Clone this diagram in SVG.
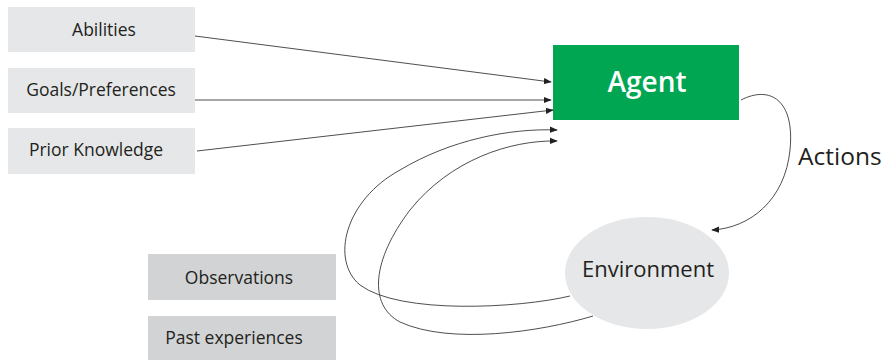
<svg xmlns="http://www.w3.org/2000/svg" width="886" height="360" viewBox="0 0 886 360">
  <style>
    .input rect { fill: #e6e7e8; }
    .memory rect { fill: #d1d3d4; }
    .label { font-family: "Open Sans", "Liberation Sans", sans-serif; font-size: 17.5px; fill: #231f20; text-anchor: middle; }
    .wire { fill: none; stroke: #231f20; stroke-width: 0.8; marker-end: url(#tip); }
  </style>
  <defs>
    <marker id="tip" viewBox="0 0 10 10" refX="9" refY="5" markerWidth="8" markerHeight="8" markerUnits="userSpaceOnUse" orient="auto">
      <path d="M0,1 L10,5 L0,9 Z" fill="#231f20"/>
    </marker>
  </defs>
  <rect width="886" height="360" fill="#ffffff"/>

  <g id="abilities" class="input">
    <rect x="8" y="7" width="187" height="45"/>
    <text class="label" x="104" y="36">Abilities</text>
  </g>
  <g id="goals" class="input">
    <rect x="8" y="68" width="187" height="45"/>
    <text class="label" x="101" y="96">Goals/Preferences</text>
  </g>
  <g id="prior-knowledge" class="input">
    <rect x="8" y="128" width="187" height="46"/>
    <text class="label" x="96" y="156">Prior Knowledge</text>
  </g>

  <g id="observations" class="memory">
    <rect x="148" y="254" width="188" height="46"/>
    <text class="label" x="239" y="284">Observations</text>
  </g>
  <g id="past-experiences" class="memory">
    <rect x="148" y="316" width="188" height="44"/>
    <text class="label" x="234" y="344">Past experiences</text>
  </g>

  <g id="agent">
    <rect x="553" y="45" width="186" height="75" fill="#00a651"/>
    <text x="647" y="92" font-family="'Open Sans', 'Liberation Sans', sans-serif" font-size="28" font-weight="600" fill="#ffffff" text-anchor="middle">Agent</text>
  </g>

  <g id="environment">
    <ellipse cx="647" cy="273" rx="82" ry="56" fill="#e6e7e8"/>
    <text x="648" y="277" font-family="'Open Sans', 'Liberation Sans', sans-serif" font-size="22" fill="#231f20" text-anchor="middle">Environment</text>
  </g>

  <g id="connectors">
    <path class="wire" d="M195,36 L551,82"/>
    <path class="wire" d="M195,100 L551,100"/>
    <path class="wire" d="M197,151 L553,110"/>
    <path class="wire" d="M570,296 C520,308 400,315 360,285 C330,260 345,200 400,170 C450,140 510,128 557,130"/>
    <path class="wire" d="M593,316 C540,332 450,345 400,322 C368,305 372,260 410,210 C450,160 510,140 557,141"/>
    <path class="wire" d="M741,100 C770,85 795,100 790,150 C785,200 750,228 712,230"/>
    <text x="798" y="165" font-family="'Open Sans', 'Liberation Sans', sans-serif" font-size="24.5" fill="#231f20">Actions</text>
  </g>
</svg>
